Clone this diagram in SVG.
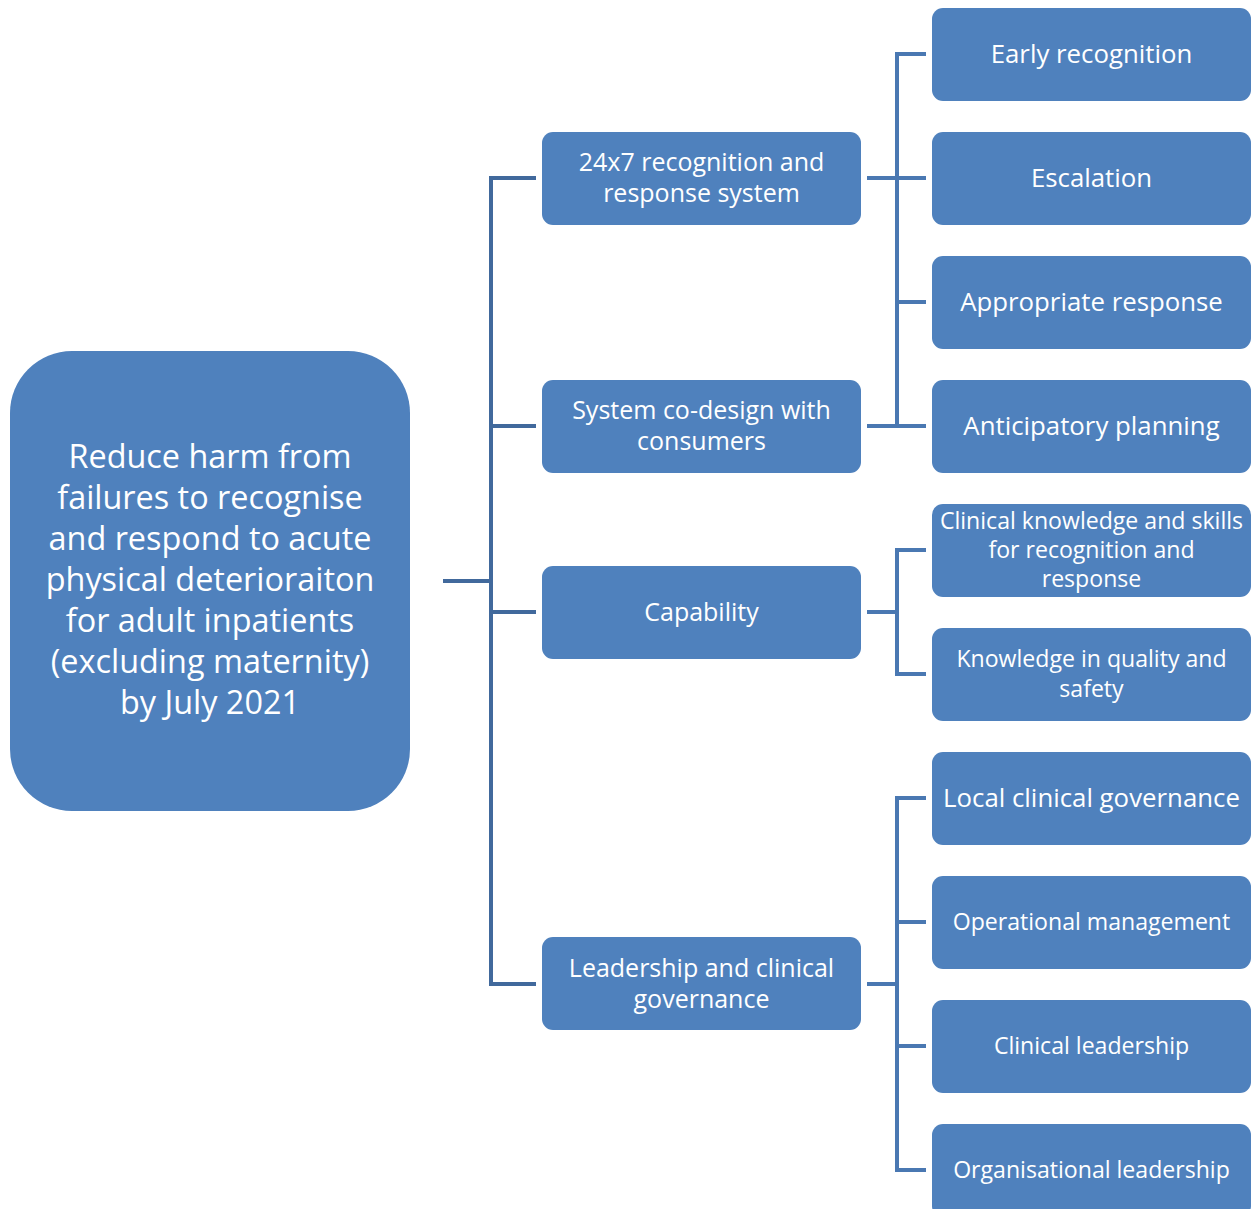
<svg xmlns="http://www.w3.org/2000/svg" width="1257" height="1209" viewBox="0 0 1257 1209">
<style>
.n{fill:#4F81BD}
.t{fill:#fff;font-family:"Open Sans","Liberation Sans",sans-serif;text-anchor:middle}
.r{font-size:32.4px}
.m{font-size:25px}
.s{font-size:25.8px}
.s2{font-size:23.1px}
.cl{stroke:#41699C;stroke-width:4;fill:none}
.cr{stroke:#4A78B2;stroke-width:4;fill:none}
</style>
<rect width="1257" height="1209" fill="#fff"/>
<g id="connectors">
<path class="cl" d="M443 581H491M491 178V984M489 178H536M489 426H536M489 612H536M489 984H536"/>
<path class="cr" d="M867 178H897M897 54V426M895 54H926M895 178H926M895 302H926M867 426H926"/>
<path class="cr" d="M867 612H897M897 550V674M895 550H926M895 674H926"/>
<path class="cr" d="M867 984H897M897 798V1170M895 798H926M895 922H926M895 1046H926M895 1170H926"/>
</g>
<g id="root">
<rect class="n" x="10" y="351" width="400" height="460" rx="62"/>
<text class="t r"><tspan x="210" y="468">Reduce harm from</tspan><tspan x="210" y="509">failures to recognise</tspan><tspan x="210" y="550">and respond to acute</tspan><tspan x="210" y="591">physical deterioraiton</tspan><tspan x="210" y="632">for adult inpatients</tspan><tspan x="210" y="673">(excluding maternity)</tspan><tspan x="210" y="714">by July 2021</tspan></text>
</g>
<g id="m1"><rect class="n" x="542" y="132" width="319" height="93" rx="11"/><text class="t m"><tspan x="701.5" y="171">24x7 recognition and</tspan><tspan x="701.5" y="202">response system</tspan></text></g>
<g id="m2"><rect class="n" x="542" y="380" width="319" height="93" rx="11"/><text class="t m"><tspan x="701.5" y="419">System co-design with</tspan><tspan x="701.5" y="450">consumers</tspan></text></g>
<g id="m3"><rect class="n" x="542" y="566" width="319" height="93" rx="11"/><text class="t m" x="701.5" y="621">Capability</text></g>
<g id="m4"><rect class="n" x="542" y="937" width="319" height="93" rx="11"/><text class="t m"><tspan x="701.5" y="977">Leadership and clinical</tspan><tspan x="701.5" y="1008">governance</tspan></text></g>
<g id="r1"><rect class="n" x="932" y="8" width="319" height="93" rx="11"/><text class="t s" x="1091.5" y="63">Early recognition</text></g>
<g id="r2"><rect class="n" x="932" y="132" width="319" height="93" rx="11"/><text class="t s" x="1091.5" y="187">Escalation</text></g>
<g id="r3"><rect class="n" x="932" y="256" width="319" height="93" rx="11"/><text class="t s" x="1091.5" y="311">Appropriate response</text></g>
<g id="r4"><rect class="n" x="932" y="380" width="319" height="93" rx="11"/><text class="t s" x="1091.5" y="435">Anticipatory planning</text></g>
<g id="r5"><rect class="n" x="932" y="504" width="319" height="93" rx="11"/><text class="t s2"><tspan x="1091.5" y="529">Clinical knowledge and skills</tspan><tspan x="1091.5" y="558">for recognition and</tspan><tspan x="1091.5" y="587">response</tspan></text></g>
<g id="r6"><rect class="n" x="932" y="628" width="319" height="93" rx="11"/><text class="t s2"><tspan x="1091.5" y="667">Knowledge in quality and</tspan><tspan x="1091.5" y="697">safety</tspan></text></g>
<g id="r7"><rect class="n" x="932" y="752" width="319" height="93" rx="11"/><text class="t s" x="1091.5" y="807">Local clinical governance</text></g>
<g id="r8"><rect class="n" x="932" y="876" width="319" height="93" rx="11"/><text class="t s2" x="1091.5" y="930">Operational management</text></g>
<g id="r9"><rect class="n" x="932" y="1000" width="319" height="93" rx="11"/><text class="t s2" x="1091.5" y="1054">Clinical leadership</text></g>
<g id="r10"><rect class="n" x="932" y="1124" width="319" height="93" rx="11"/><text class="t s2" x="1091.5" y="1178">Organisational leadership</text></g>
</svg>
